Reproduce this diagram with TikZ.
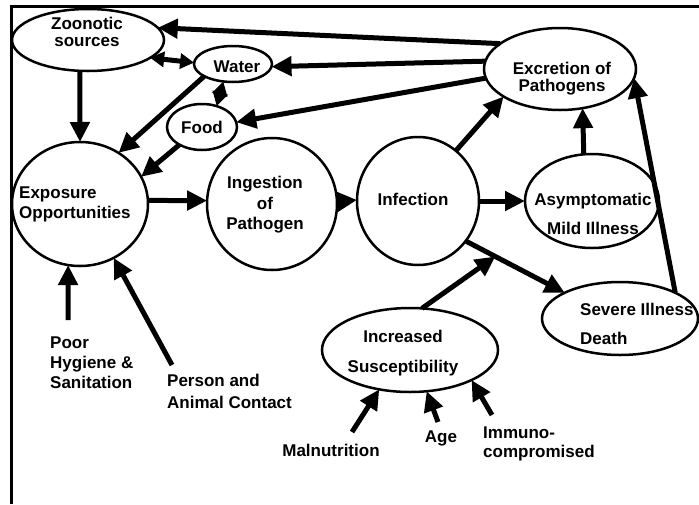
\documentclass[tikz,border=0pt]{standalone}
\usepackage{fontspec}
\setmainfont{Liberation Sans}
\usetikzlibrary{arrows.meta,shapes.geometric,calc}
\begin{document}
\begin{tikzpicture}[x=1pt,y=-1pt,
  ell/.style={ellipse,draw,line width=2.5pt,inner sep=0pt,outer sep=0pt},
  lbl/.style={inner sep=0pt,font=\bfseries\fontsize{17}{20}\selectfont},
  arr/.style={line width=5pt,-{Triangle[length=20pt,width=19pt]}},
  darr/.style={line width=5pt,{Triangle[length=14pt,width=15pt]}-{Triangle[length=14pt,width=15pt]}}]
\useasboundingbox (0,0) rectangle (699,504);
\draw[line width=3pt] (11.5,504) -- (11.5,6) -- (699,6);
% ellipses
\node[ell,minimum width=152pt,minimum height=62pt] (zoo) at (88,40) {};
\node[ell,minimum width=78pt,minimum height=36pt] (water) at (233,64) {};
\node[ell,minimum width=70pt,minimum height=46pt] (food) at (202,127) {};
\node[ell,minimum width=136pt,minimum height=124pt] (exp) at (80,204) {};
\node[ell,minimum width=130pt,minimum height=132pt] (ing) at (272,204) {};
\node[ell,minimum width=122pt,minimum height=128pt] (inf) at (418,201) {};
\node[ell,minimum width=134pt,minimum height=94pt] (asy) at (592,201) {};
\node[ell,minimum width=152pt,minimum height=82pt] (exc) at (560,69) {};
\node[ell,minimum width=156pt,minimum height=73pt] (sev) at (620,318.5) {};
\node[ell,minimum width=176pt,minimum height=84pt] (inc) at (410,350) {};
% texts
\node[lbl,anchor=north,align=center,font=\bfseries\fontsize{17}{17}\selectfont] (zooL) at (87,17) {Zoonotic\\sources};
\node[lbl,anchor=north] (waterL) at (237,61) {Water};
\node[lbl,anchor=north] (foodL) at (202,121) {Food};
\node[lbl,anchor=north west,align=left] (expL) at (19,187) {Exposure\\Opportunities};
\node[lbl,anchor=north,align=center,font=\bfseries\fontsize{17}{20.5}\selectfont] (ingL) at (265,176) {Ingestion\\of\\Pathogen};
\node[lbl,anchor=north] (infL) at (413,193) {Infection};
\node[lbl,anchor=north,align=center,font=\bfseries\fontsize{17}{29}\selectfont] (asyL) at (593,193) {Asymptomatic\\Mild Illness};
\node[lbl,anchor=north,align=center,font=\bfseries\fontsize{17}{17}\selectfont] (excL) at (562,62) {Excretion of\\Pathogens};
\node[lbl,anchor=north west,align=left,font=\bfseries\fontsize{17}{29}\selectfont] (sevL) at (580,303) {Severe Illness\\Death};
\node[lbl,anchor=north,align=center,font=\bfseries\fontsize{17}{30}\selectfont] (incL) at (403,330) {Increased\\Susceptibility};
\node[lbl,anchor=north west,align=left] (poorL) at (50,337) {Poor\\Hygiene \&\\Sanitation};
\node[lbl,anchor=north west,align=left,font=\bfseries\fontsize{17}{22}\selectfont] (persL) at (167,374) {Person and\\Animal Contact};
\node[lbl,anchor=north] (malL) at (331,444) {Malnutrition};
\node[lbl,anchor=north] (ageL) at (441,431) {Age};
\node[lbl,anchor=north west,align=left,font=\bfseries\fontsize{17}{19}\selectfont] (immL) at (483,427) {Immuno-\\compromised};
% free ends
\coordinate (poorT) at (68,320);
\coordinate (persT) at (172,365);
\coordinate (malT) at (352,432);
\coordinate (ageT) at (438,422);
\coordinate (immT) at (492,415);
\coordinate (mod) at ($(inf.-40)!0.3!(sev.155)$);
% connectors
\draw[arr] (exc.157) -- (zoo.10);
\draw[arr] (exc.174) -- (water.-4);
\draw[arr] (exc.187) -- (food.8);
\draw[darr] (zoo.-16) -- (water.178);
\draw[darr] (water.241) -- (food.55);
\draw[arr] (zoo.255) -- (exp.90);
\draw[arr] (water.203) -- (exp.53);
\draw[arr] (food.218) -- (exp.24);
\draw[arr] (exp.3) -- (ing.177);
\draw[arr] (ing.2) -- (inf.179);
\draw[arr] (inf.0) -- (asy.180);
\draw[arr] (inf.53) -- (exc.206);
\draw[arr] (asy.100) -- (exc.-60);
\draw[arr] (sev.25) -- (exc.-7);
\draw[arr] (inf.-40) -- (sev.155);
\draw[arr] (inc.74) -- (mod);
\draw[arr] (poorT) -- (exp.259);
\draw[arr] (persT) -- (exp.-58);
\draw[arr] (malT) -- (inc.232);
\draw[arr] (ageT) -- (inc.-68);
\draw[arr] (immT) -- (inc.-26);
\end{tikzpicture}
\end{document}
